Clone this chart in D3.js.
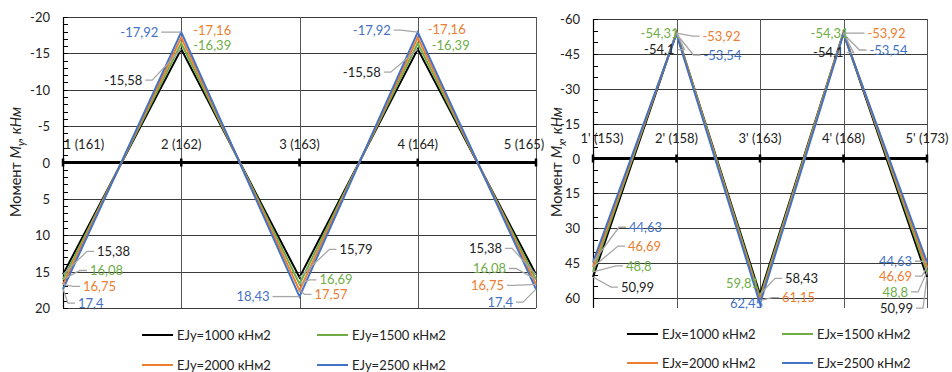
<!DOCTYPE html>
<html><head><meta charset="utf-8">
<script src="https://cdn.jsdelivr.net/npm/d3@7"></script>
<style>
html,body{margin:0;padding:0;background:#fff;}
svg{display:block;font-family:Lato,"Open Sans",sans-serif;}
</style></head>
<body>
<svg id="chart" width="952" height="372"></svg>
<script>
// ---------- DATA ----------
const leftCategories = ["1 (161)", "2 (162)", "3 (163)", "4 (164)", "5 (165)"];
const rightCategories = ["1' (153)", "2' (158)", "3' (163)", "4' (168)", "5' (173)"];
const leftSeriesNames = ["EJy=1000 кНм2", "EJy=1500 кНм2", "EJy=2000 кНм2", "EJy=2500 кНм2"];
const rightSeriesNames = ["EJx=1000 кНм2", "EJx=1500 кНм2", "EJx=2000 кНм2", "EJx=2500 кНм2"];
const leftEJ1000 = [15.38, -15.58, 15.79, -15.58, 15.38];
const leftEJ1500 = [16.08, -16.39, 16.69, -16.39, 16.08];
const leftEJ2000 = [16.75, -17.16, 17.57, -17.16, 16.75];
const leftEJ2500 = [17.4, -17.92, 18.43, -17.92, 17.4];
const rightEJ1000 = [50.99, -54.1, 58.43, -54.1, 50.99];
const rightEJ1500 = [48.8, -54.31, 59.81, -54.31, 48.8];
const rightEJ2000 = [46.69, -53.92, 61.15, -53.92, 46.69];
const rightEJ2500 = [44.63, -53.54, 62.45, -53.54, 44.63];
const leftTicks = [-20, -15, -10, -5, 0, 5, 10, 15, 20];
const rightTicks = [-60, -45, -30, -15, 0, 15, 30, 45, 60];

// ---------- STYLE / LAYOUT ----------
const seriesColors = ["#000000", "#70AD47", "#ED7D31", "#4472C4"];
// label offsets relative to each point: [dx, dy, anchor]
const leftLabelOffsets = [
  [[34,-23,"start"],[-39,31,"end"],[40,-28,"start"],[-37,23,"end"],[-34,-26,"end"]],
  [[27,-9,"start"],[12,2,"start"],[20,-4,"start"],[14,2,"start"],[-30,-11,"end"]],
  [[20,2,"start"],[12,-7,"start"],[15,4,"start"],[10,-8,"start"],[-32,1,"end"]],
  [[15,14,"start"],[-23,0,"end"],[-30,0,"end"],[-27,-2,"end"],[-23,13,"end"]]
];
const rightLabelOffsets = [
  [[28,10,"start"],[-2,17,"end"],[25,-16,"start"],[0,20,"end"],[-14,31,"end"]],
  [[33,-6,"start"],[2,1,"end"],[-1,-14,"end"],[5,1,"end"],[-19,20,"end"]],
  [[35,-21,"start"],[26,3,"start"],[22,-3,"start"],[24,0,"start"],[-15,9,"end"]],
  [[36,-35,"start"],[27,21,"start"],[3,0,"end"],[26,16,"start"],[-15,-1,"end"]]
];

const svg = d3.select("#chart");
const fmt = v => String(v).replace(".", ",");

function drawChart(cfg) {
  const g = svg.append("g");
  const x = d3.scalePoint().domain(cfg.categories).range(cfg.xRange);
  const y = d3.scaleLinear().domain(cfg.yDomain).range(cfg.yRange);
  const x0 = cfg.xRange[0], x1 = cfg.xRange[1];
  const yTop = cfg.yRange[0], yBot = cfg.yRange[1];

  // horizontal gridlines
  g.selectAll(".hg").data(cfg.ticks.filter(t => t !== 0)).enter().append("line")
    .attr("x1", x0).attr("x2", x1)
    .attr("y1", d => Math.round(y(d)) + 0.5).attr("y2", d => Math.round(y(d)) + 0.5)
    .attr("stroke", "#3a3a3a").attr("stroke-width", 1);
  // vertical gridlines
  g.selectAll(".vg").data(cfg.categories.slice(1)).enter().append("line")
    .attr("x1", d => Math.round(x(d)) + 0.5).attr("x2", d => Math.round(x(d)) + 0.5)
    .attr("y1", yTop).attr("y2", yBot)
    .attr("stroke", "#555").attr("stroke-width", 1);

  // y axis via d3.axisLeft (major labels), then minor ticks
  const ax = d3.axisLeft(y).tickValues(cfg.ticks).tickSize(0).tickPadding(13)
    .tickFormat(d => String(d).replace("−", "-"));
  const axg = g.append("g").attr("transform", `translate(${x0},0)`).call(ax);
  axg.select(".domain").remove();
  axg.selectAll("text").attr("font-size", 13).attr("fill", "#222")
    .attr("font-family", "Lato, sans-serif").attr("dy", "0.35em");
  g.append("line").attr("x1", x0 + 0.5).attr("x2", x0 + 0.5).attr("y1", yTop).attr("y2", yBot)
    .attr("stroke", "#000").attr("stroke-width", 1.2);
  const minor = d3.range(cfg.yDomain[0], cfg.yDomain[1] + 0.001, cfg.minorStep);
  g.selectAll(".mt").data(minor).enter().append("line")
    .attr("x1", x0).attr("x2", x0 + 5)
    .attr("y1", d => Math.round(y(d)) + 0.5).attr("y2", d => Math.round(y(d)) + 0.5)
    .attr("stroke", "#000").attr("stroke-width", 1);

  // category labels
  g.selectAll(".cl").data(cfg.categories).enter().append("text")
    .attr("x", (d, i) => x(d) + cfg.catShift[i]).attr("y", cfg.catLabelY)
    .attr("text-anchor", "middle").attr("dy", "0.35em")
    .attr("font-size", 13).attr("fill", "#222").text(d => d);

  // zero axis line with ticks
  g.append("line").attr("x1", x0).attr("x2", x1).attr("y1", y(0)).attr("y2", y(0))
    .attr("stroke", "#000").attr("stroke-width", 3);
  g.selectAll(".zt").data(cfg.categories).enter().append("line")
    .attr("x1", d => x(d)).attr("x2", d => x(d))
    .attr("y1", y(0) - 4).attr("y2", y(0) + 4)
    .attr("stroke", "#000").attr("stroke-width", 2.5);

  // y title
  const t = g.append("text")
    .attr("transform", `translate(${cfg.titleX},${cfg.titleY}) rotate(-90)`)
    .attr("text-anchor", "middle").attr("font-size", 14.5).attr("fill", "#222");
  t.append("tspan").text("Момент ");
  t.append("tspan").attr("font-style", "italic").text("M");
  t.append("tspan").attr("font-style", "italic").attr("font-size", 10.5).attr("dy", 4).text(cfg.sub);
  t.append("tspan").attr("font-style", "italic").attr("dy", -4).text(", кНм");

  // series lines
  const line = d3.line().x((d, i) => x(cfg.categories[i])).y(d => y(d));
  cfg.series.forEach((s, si) => {
    g.append("path").datum(s).attr("d", line).attr("fill", "none")
      .attr("stroke", seriesColors[si]).attr("stroke-width", 2).attr("stroke-linejoin", "miter");
  });

  // data labels with leader lines
  cfg.series.forEach((s, si) => {
    s.forEach((v, ci) => {
      const px = x(cfg.categories[ci]), py = y(v);
      const [dx, dy, anchor] = cfg.offsets[si][ci];
      const tx = px + dx, ty = py + dy;
      if (Math.hypot(dx, dy) > 15) {
        const sgn = anchor === "end" ? 1 : -1;
        const sx = tx + sgn * 3, mx = tx + sgn * 10;
        g.append("path")
          .attr("d", `M${sx},${ty}L${mx},${ty}L${px},${py}`)
          .attr("fill", "none").attr("stroke", "#a6a6a6").attr("stroke-width", 1.3);
      }
    });
  });
  cfg.series.forEach((s, si) => {
    s.forEach((v, ci) => {
      const px = x(cfg.categories[ci]), py = y(v);
      const [dx, dy, anchor] = cfg.offsets[si][ci];
      g.append("text").attr("x", px + dx).attr("y", py + dy).attr("dy", "0.35em")
        .attr("text-anchor", anchor).attr("font-size", 13)
        .attr("fill", seriesColors[si] === "#000000" ? "#222" : seriesColors[si])
        .text(fmt(v));
    });
  });

  // legend
  const lg = g.append("g");
  cfg.names.forEach((n, i) => {
    const col = i % 2, row = Math.floor(i / 2);
    const lx = cfg.legendX[col], ly = cfg.legendY[row];
    lg.append("line").attr("x1", lx).attr("x2", lx + 31).attr("y1", ly).attr("y2", ly)
      .attr("stroke", seriesColors[i]).attr("stroke-width", 2);
    lg.append("text").attr("x", lx + 35).attr("y", ly).attr("dy", "0.35em")
      .attr("font-size", 13).attr("fill", "#222").text(n);
  });
}

drawChart({
  categories: leftCategories,
  series: [leftEJ1000, leftEJ1500, leftEJ2000, leftEJ2500],
  names: leftSeriesNames,
  offsets: leftLabelOffsets,
  ticks: leftTicks,
  xRange: [63, 536], yDomain: [-20, 20], yRange: [17, 308], minorStep: 1,
  catShift: [21, 0, 0, 0, -12], catLabelY: 144,
  titleX: 21, titleY: 162, sub: "y",
  legendX: [142, 317], legendY: [335, 365]
});
drawChart({
  categories: rightCategories,
  series: [rightEJ1000, rightEJ1500, rightEJ2000, rightEJ2500],
  names: rightSeriesNames,
  offsets: rightLabelOffsets,
  ticks: rightTicks,
  xRange: [593, 927], yDomain: [-60, 64.3], yRange: [19, 308], minorStep: 5,
  catShift: [9, 0, 0, 0, 0], catLabelY: 138,
  titleX: 562, titleY: 162, sub: "x",
  legendX: [627, 782], legendY: [334, 363]
});
</script>
</body></html>
